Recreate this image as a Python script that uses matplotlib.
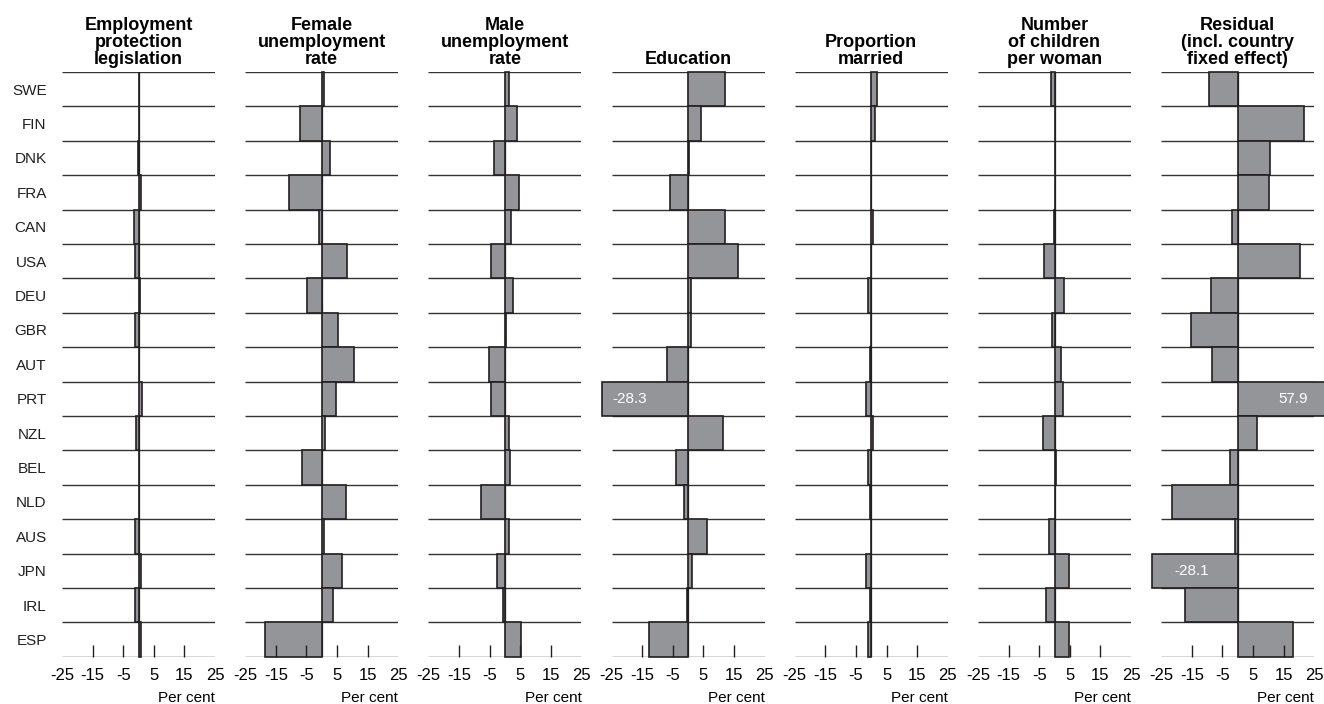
import numpy as np
import matplotlib
matplotlib.use("Agg")
import matplotlib.pyplot as plt

plt.rcParams['font.family'] = ['Liberation Sans', 'DejaVu Sans']

countries = ["SWE", "FIN", "DNK", "FRA", "CAN", "USA", "DEU", "GBR", "AUT",
             "PRT", "NZL", "BEL", "NLD", "AUS", "JPN", "IRL", "ESP"]

titles = ["Employment\nprotection\nlegislation",
          "Female\nunemployment\nrate",
          "Male\nunemployment\nrate",
          "Education",
          "Proportion\nmarried",
          "Number\nof children\nper woman",
          "Residual\n(incl. country\nfixed effect)"]

epl = [0.3, 0.3, -0.3, 0.8, -1.5, -1.3, 0.4, -1.3, 0.3, 1.2, -0.9, 0.3, 0.3, -1.0, 0.8, -1.0, 0.8]
female_unemp = [0.9, -7.1, 2.7, -10.6, -0.9, 8.2, -4.7, 5.4, 10.6, 4.7, 1.1, -6.3, 7.8, 0.8, 6.5, 3.8, -18.4]
male_unemp = [1.5, 4.1, -3.5, 4.5, 2.0, -4.4, 2.5, 0.3, -5.1, -4.4, 1.2, 1.6, -7.7, 1.2, -2.6, -0.5, 5.4]
education = [12.2, 4.1, 0.3, -5.9, 12.1, 16.2, 0.8, 0.8, -6.9, -28.3, 11.3, -4.1, -1.4, 6.3, 1.3, -0.5, -12.7]
married = [1.8, 1.1, 0.0, 0.0, 0.5, 0.0, -1.2, 0.0, -0.4, -1.6, 0.5, -1.1, -0.3, 0.0, -1.6, -0.3, -1.0]
children = [-1.0, 0.0, 0.0, 0.3, -0.3, -3.4, 3.0, -0.9, 2.2, 2.7, -3.8, 0.5, 0.0, -1.9, 4.7, -2.8, 4.7]
residual = [-9.4, 21.6, 10.7, 10.1, -2.0, 20.2, -8.8, -15.3, -8.4, 57.9, 6.3, -2.5, -21.6, -1.0, -28.1, -17.1, 18.1]

panels = [epl, female_unemp, male_unemp, education, married, children, residual]

# labels written inside bars that run past the axis range: (panel, country, x, align)
bar_notes = [(3, "PRT", -24.7, "left"), (6, "JPN", -20.7, "left"), (6, "PRT", 22.8, "right")]

W, H = 1324, 704
fig = plt.figure(figsize=(W / 100, H / 100), dpi=100)

n = len(countries)
ypos = np.arange(n)[::-1] + 0.5
fill = "#939598"
edge = "#231f20"

for k, (vals, title) in enumerate(zip(panels, titles)):
    left = 62 + k * 183.2
    ax = fig.add_axes([left / W, (H - 656.7) / H, 153 / W, (656.7 - 72) / H])
    ax.set_xlim(-25, 25)
    ax.set_ylim(0, n)
    ax.set_axisbelow(False)
    for s in ax.spines.values():
        s.set_visible(False)
    ax.hlines(np.arange(n + 1), -25, 25, color="#333333", lw=1.0, zorder=1)
    ax.axvline(0, color=edge, lw=0.9, zorder=1)
    ax.barh(ypos, vals, height=1.0, color=fill, edgecolor=edge, lw=1.2,
            zorder=2, clip_on=False)

    ax.xaxis.remove_overlapping_locs = False
    ax.set_xticks([-25, -15, -5, 5, 15, 25])
    ax.set_xticklabels(["-25", "-15", "-5", "5", "15", "25"])
    ax.tick_params(axis="x", which="major", length=0, pad=8, labelsize=12)
    ax.set_xticks([-15, -5, 5, 15], minor=True)
    ax.tick_params(axis="x", which="minor", direction="in", length=8.5,
                   width=1.0, color=edge)

    if k == 0:
        ax.set_yticks(ypos)
        ax.set_yticklabels(countries, fontsize=11, color="#231f20")
        ax.tick_params(axis="y", length=0, pad=11)
    else:
        ax.set_yticks([])

    ax.annotate("Per cent", xy=(1, 0), xycoords="axes fraction",
                xytext=(0, -29.5), textcoords="offset points",
                ha="right", va="center", fontsize=11)
    ax.annotate(title, xy=(0.5, 1), xycoords="axes fraction",
                xytext=(0, 3.0), textcoords="offset points",
                ha="center", va="bottom", fontsize=13, fontweight="bold",
                linespacing=1.0)

    for p, c, x, ha in bar_notes:
        if p == k:
            i = countries.index(c)
            ax.text(x, ypos[i], f"{vals[i]:.1f}", color="white", fontsize=11,
                    ha=ha, va="center", zorder=3, clip_on=False)

fig.savefig("out.png", dpi=100)
